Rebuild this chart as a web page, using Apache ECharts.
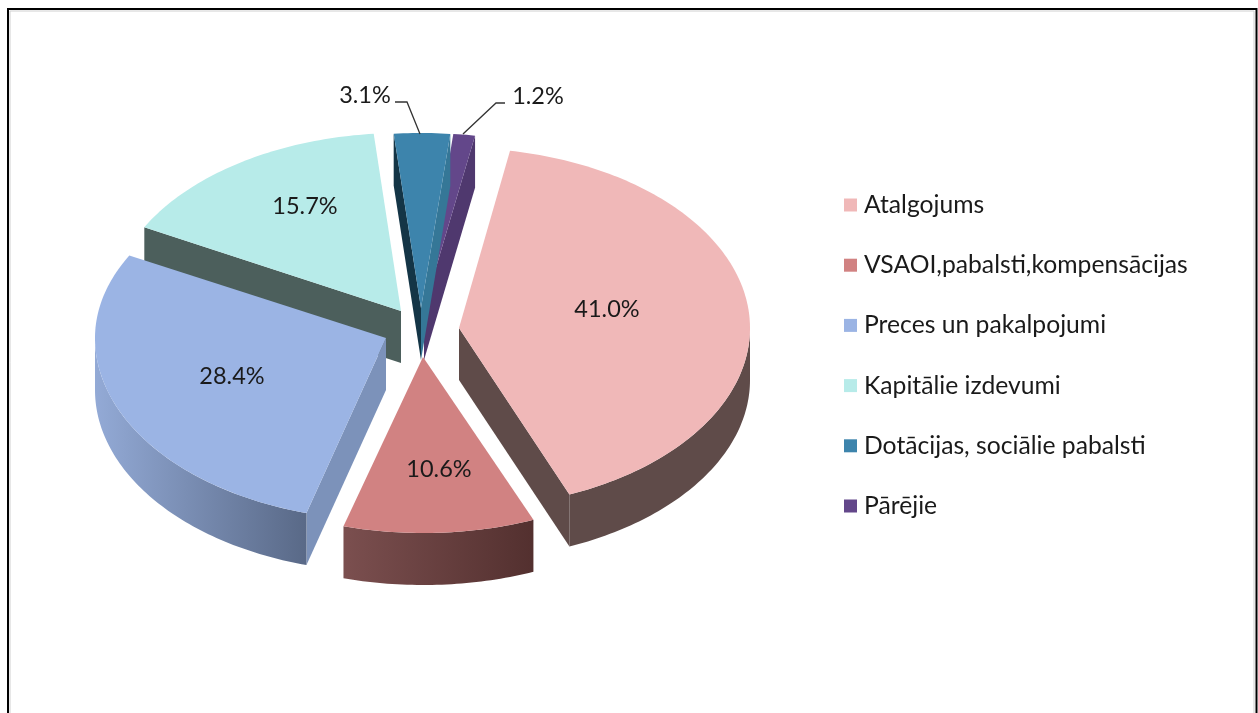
<!DOCTYPE html>
<html><head><meta charset="utf-8">
<style>html,body{margin:0;padding:0;background:#fff}#c{width:1258px;height:713px}</style>
<script src="https://cdn.jsdelivr.net/npm/echarts@6/dist/echarts.min.js"></script>
</head><body><div id="c"></div>
<script>
// ---- data ----
const categories = ['Atalgojums','VSAOI,pabalsti,kompensācijas','Preces un pakalpojumi','Kapitālie izdevumi','Dotācijas, sociālie pabalsti','Pārējie'];
const shares = [41.0,10.6,28.4,15.7,3.1,1.2];
// ---- styling / layout ----
const topColors = ['#F0B8B8','#D18282','#9BB4E4','#B7EBE9','#3D84AC','#63478A'];
const startWallColors = ['#5F4B49','#5F4B49','#7C92BA','#4C5F5C','#143546','#4F386E'];
const endWallColors = ['#5F4B49','#5F4B49','#7C92BA','#4C5F5C','#357797','#4F386E'];
const outerWallStops = [['#5F4B49','#5F4B49'],['#7B4F4F','#53302F'],['#93AAD6','#596987'],['#4C5F5C','#4C5F5C'],['#143546','#143546'],['#4F386E','#4F386E']];
const explodeX = [36,0,-37,-22,-2,1];
const explodeY = [1,30,11,-16,-19,-19];
const radiusY = [180,176,182,178,175,175];
const radiusYBack = [180,176,175,178,175,175];
const drawOrder = [3,4,5,0,2,1];
const labelX = [607,439,232,305,365,538];
const labelY = [309,469,376,206,95,96];
const leaderX = [null,null,null,null,[395,407,420],[505,496,463]];
const leaderY = [null,null,null,null,[102,102,134],[103,103,134]];
const cx = 423, cy = 327, rx = 291, depth = 52, startAngle = 10.1;
const fontFamily = 'Lato,"Open Sans",sans-serif';

const total = shares.reduce((a,b)=>a+b,0);
const D2R = Math.PI/180;
function renderSlice(i){
  return function(params, api){
    let before = 0; for(let k=0;k<i;k++) before += shares[k];
    const a0 = startAngle + before/total*360;
    const a1 = a0 + api.value(0)/total*360;
    const ax = cx+explodeX[i], ay = cy+explodeY[i];
    const pt = (deg,d)=>{
      const c = Math.cos(deg*D2R);
      return [ax+rx*Math.sin(deg*D2R), ay-(c>0?radiusYBack[i]:radiusY[i])*c+(d||0)];
    };
    const arc = (from,to,d)=>{const out=[],n=Math.max(2,Math.ceil(Math.abs(to-from)));for(let s=0;s<=n;s++)out.push(pt(from+(to-from)*s/n,d));return out;};
    const children = [];
    const poly = (points,fill)=>children.push({type:'polygon',shape:{points},style:{fill,stroke:null},silent:true});
    // radial walls
    if(Math.sin(a0*D2R)<0){const p=pt(a0);poly([[ax,ay],p,[p[0],p[1]+depth],[ax,ay+depth]],startWallColors[i]);}
    if(Math.sin(a1*D2R)>0){const p=pt(a1);poly([[ax,ay],p,[p[0],p[1]+depth],[ax,ay+depth]],endWallColors[i]);}
    // outer wall
    const w0=Math.max(a0,90), w1=Math.min(a1,270);
    if(w1>w0){
      const t=arc(w0,w1), b=arc(w1,w0,depth);
      const xs=t.map(p=>p[0]), xa=Math.min(...xs), xb=Math.max(...xs);
      poly(t.concat(b),{type:'linear',global:true,x:xa,y:0,x2:xb,y2:0,colorStops:[{offset:0,color:outerWallStops[i][0]},{offset:1,color:outerWallStops[i][1]}]});
    }
    // top face
    poly([[ax,ay]].concat(arc(a0,a1)),topColors[i]);
    // leader
    if(leaderX[i]) children.push({type:'polyline',shape:{points:leaderX[i].map((x,k)=>[x,leaderY[i][k]])},style:{stroke:'#333',lineWidth:1.3,fill:null},silent:true});
    // label
    children.push({type:'text',style:{text:api.value(0).toFixed(1)+'%',x:labelX[i],y:labelY[i],align:'center',verticalAlign:'middle',fill:'#1a1a1a',font:'23.5px '+fontFamily},silent:true,z2:10});
    return {type:'group',children};
  };
}
const series = categories.map((name,i)=>({
  type:'custom',name,coordinateSystem:'none',z:2+drawOrder[i],
  itemStyle:{color:topColors[i]},
  data:[[shares[i]]],
  renderItem:renderSlice(i),
  animation:false,silent:true
}));
const chart = echarts.init(document.getElementById('c'));
chart.setOption({
  animation:false,
  backgroundColor:'#fff',
  legend:{
    orient:'vertical',left:844,top:191,padding:0,itemWidth:13,itemHeight:13,itemGap:32.2,icon:'rect',
    selectedMode:false,data:categories,
    textStyle:{fontFamily,fontSize:24.7,color:'#1a1a1a',padding:[0,0,0,2],lineHeight:28}
  },
  graphic:[
    {type:'rect',shape:{x:10,y:11,width:1244,height:720},style:{fill:null,stroke:'#d0d0d0',lineWidth:1},silent:true},
    {type:'rect',shape:{x:8,y:9,width:1248.5,height:720},style:{fill:null,stroke:'#000',lineWidth:2},silent:true}
  ],
  series
});
</script></body></html>
